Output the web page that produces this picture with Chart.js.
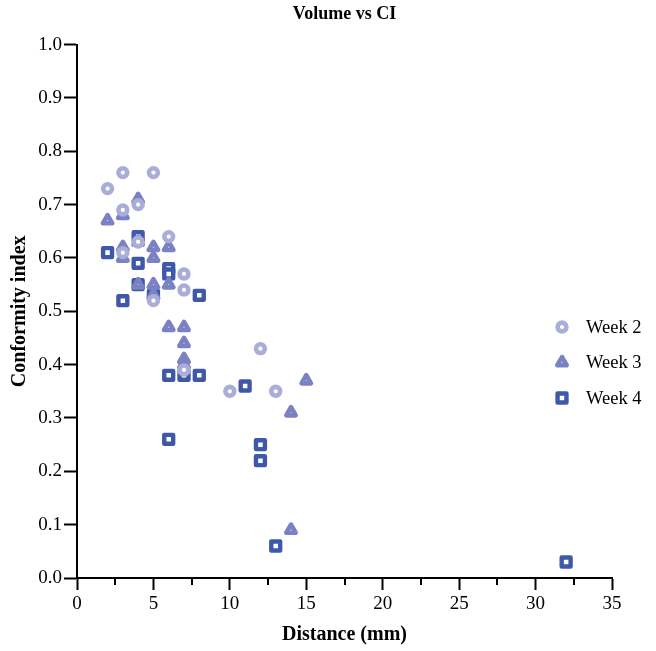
<!DOCTYPE html>
<html>
<head>
<meta charset="utf-8">
<script src="https://cdn.jsdelivr.net/npm/chart.js"></script>
<style>
  html, body { margin: 0; padding: 0; background: #fff; }
  #wrap { width: 656px; height: 651px; }
</style>
</head>
<body>
<div id="wrap"><canvas id="chart" width="656" height="651"></canvas></div>
<script>
// ---------------- data ----------------
const week2X = [2, 3, 3, 3, 4, 4, 5, 5, 6, 7, 7, 7, 10, 12, 13];
const week2Y = [0.73, 0.76, 0.69, 0.61, 0.70, 0.63, 0.76, 0.52, 0.64, 0.57, 0.54, 0.39, 0.35, 0.43, 0.35];

const week3X = [2, 3, 3, 3, 4, 4, 4, 5, 5, 5, 5, 6, 6, 6, 7, 7, 7, 7, 14, 15, 14];
const week3Y = [0.67, 0.68, 0.62, 0.60, 0.71, 0.63, 0.55, 0.62, 0.60, 0.55, 0.53, 0.62, 0.55, 0.47, 0.47, 0.44, 0.41, 0.40, 0.31, 0.37, 0.09];

const week4X = [2, 3, 4, 4, 4, 5, 6, 6, 8, 6, 7, 8, 11, 6, 12, 12, 13, 32];
const week4Y = [0.61, 0.52, 0.64, 0.59, 0.55, 0.53, 0.58, 0.57, 0.53, 0.38, 0.38, 0.38, 0.36, 0.26, 0.25, 0.22, 0.06, 0.03];

const seriesNames = ["Week 2", "Week 3", "Week 4"];
const xTicksMajor = [0, 5, 10, 15, 20, 25, 30, 35];
const xTicksMinor = [2.5, 7.5, 12.5, 17.5, 22.5, 27.5, 32.5];

const toPoints = (xs, ys) => xs.map((x, i) => ({ x: x, y: ys[i] }));

const FONT = "'Liberation Serif', 'Times New Roman', serif";

// minor ticks on the x axis (shorter than the major ones)
const minorTicks = {
  id: "minorTicks",
  afterDraw(chart) {
    const sx = chart.scales.x;
    const ctx = chart.ctx;
    ctx.save();
    ctx.strokeStyle = "#000";
    ctx.lineWidth = 2;
    xTicksMinor.forEach((v) => {
      const px = Math.round(sx.getPixelForValue(v));
      ctx.beginPath();
      ctx.moveTo(px, sx.top);
      ctx.lineTo(px, sx.top + 7);
      ctx.stroke();
    });
    ctx.restore();
  },
};

// rounded joins so the thick triangle outlines look like the original
const roundJoins = {
  id: "roundJoins",
  beforeDatasetsDraw(chart) { chart.ctx.lineJoin = "round"; },
  afterDatasetsDraw(chart) { chart.ctx.lineJoin = "miter"; },
};

// legend sitting inside the plot on the right
const sideLegend = {
  id: "sideLegend",
  afterDraw(chart) {
    const ctx = chart.ctx;
    const x0 = 562, y0 = 327, rowH = 35.5;
    ctx.save();
    ctx.lineJoin = "round";
    chart.data.datasets.forEach((ds, i) => {
      const y = y0 + i * rowH;
      ctx.fillStyle = "#fff";
      ctx.strokeStyle = ds.pointBorderColor;
      ctx.lineWidth = ds.pointBorderWidth;
      ctx.beginPath();
      if (ds.pointStyle === "circle") {
        ctx.arc(x0, y, ds.pointRadius, 0, Math.PI * 2);
      } else if (ds.pointStyle === "triangle") {
        for (let k = 0; k < 3; k++) {
          const a = k * 2 * Math.PI / 3;
          const px = x0 + Math.sin(a) * ds.pointRadius;
          const py = y - Math.cos(a) * ds.pointRadius;
          k === 0 ? ctx.moveTo(px, py) : ctx.lineTo(px, py);
        }
        ctx.closePath();
      } else {
        const h = ds.pointRadius * Math.SQRT1_2;
        ctx.rect(x0 - h, y - h, 2 * h, 2 * h);
      }
      ctx.fill();
      ctx.stroke();
      ctx.fillStyle = "#000";
      ctx.font = "18.5px " + FONT;
      ctx.textBaseline = "middle";
      ctx.textAlign = "left";
      ctx.fillText(ds.label, x0 + 24, y + 1);
    });
    ctx.restore();
  },
};

new Chart(document.getElementById("chart"), {
  type: "scatter",
  data: {
    datasets: [
      {
        label: seriesNames[0],
        data: toPoints(week2X, week2Y),
        pointStyle: "circle",
        pointRadius: 4.4,
        pointBorderWidth: 4.6,
        pointBorderColor: "#aaadd8",
        pointBackgroundColor: "#fff",
      },
      {
        label: seriesNames[1],
        data: toPoints(week3X, week3Y),
        pointStyle: "triangle",
        pointRadius: 5.4,
        pointBorderWidth: 4.6,
        pointBorderColor: "#7b82c4",
        pointBackgroundColor: "#fff",
      },
      {
        label: seriesNames[2],
        data: toPoints(week4X, week4Y),
        pointStyle: "rect",
        pointRadius: 6.3,
        pointBorderWidth: 4.4,
        pointBorderColor: "#3f58a9",
        pointBackgroundColor: "#fff",
      },
    ],
  },
  options: {
    responsive: false,
    animation: false,
    layout: { padding: { left: 0, right: 44, top: 0, bottom: 0 } },
    plugins: {
      legend: { display: false },
      tooltip: { enabled: false },
      title: {
        display: true,
        fullSize: false,
        text: "Volume vs CI",
        color: "#000",
        font: { family: FONT, size: 18, weight: "bold" },
        padding: { top: 4, bottom: 19 },
      },
    },
    scales: {
      x: {
        type: "linear",
        min: 0,
        max: 35,
        afterFit: (s) => { s.height = 73; },
        afterBuildTicks: (s) => { s.ticks = xTicksMajor.map((v) => ({ value: v })); },
        ticks: { color: "#000", font: { family: FONT, size: 19 }, padding: 3, maxRotation: 0 },
        grid: { drawOnChartArea: false, drawTicks: true, tickLength: 12, tickWidth: 2, tickColor: "#000" },
        border: { color: "#000", width: 2 },
        title: {
          display: true,
          text: "Distance (mm)",
          color: "#000",
          font: { family: FONT, size: 20, weight: "bold" },
          padding: { top: 0, bottom: 4 },
        },
      },
      y: {
        min: 0,
        max: 1,
        afterFit: (s) => { s.width = 77; },
        ticks: {
          stepSize: 0.1,
          color: "#000",
          font: { family: FONT, size: 19 },
          padding: 2,
          callback: (v) => Number(v).toFixed(1),
        },
        grid: { drawOnChartArea: false, drawTicks: true, tickLength: 13, tickWidth: 2, tickColor: "#000" },
        border: { color: "#000", width: 2 },
        title: {
          display: true,
          text: "Conformity index",
          color: "#000",
          font: { family: FONT, size: 20, weight: "bold" },
          padding: { top: 8, bottom: 0 },
        },
      },
    },
  },
  plugins: [minorTicks, roundJoins, sideLegend],
});
</script>
</body>
</html>
